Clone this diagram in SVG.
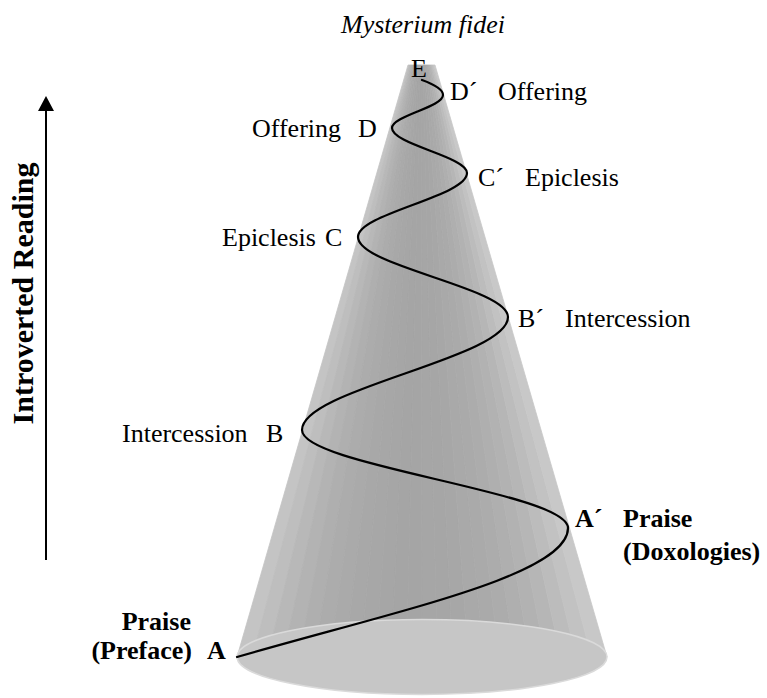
<svg xmlns="http://www.w3.org/2000/svg" width="767" height="698" viewBox="0 0 767 698">
<style>
text{font-family:"Liberation Serif","Times New Roman",serif;font-size:26px;fill:#000}
.b{font-weight:bold}
.it{font-style:italic}
.spiral{fill:none;stroke:#000;stroke-width:2.2;stroke-linecap:round}
.axis{stroke:#000;stroke-width:2}
</style>
<defs>
<marker id="ah" viewBox="0 0 16 16" refX="2" refY="8" markerWidth="16" markerHeight="16" markerUnits="userSpaceOnUse" orient="auto">
<path d="M0,0 L15,8 L0,16 Z" fill="#000"/>
</marker>
</defs>
<rect width="767" height="698" fill="#fff"/>
<g id="cone">
<polygon points="408,65 409.125,65 252.42,657 237,657" fill="#c4c4c4" stroke="#c4c4c4" stroke-width="0.8"/>
<polygon points="409.125,65 410.25,65 267.83,657 252.42,657" fill="#bebebe" stroke="#bebebe" stroke-width="0.8"/>
<polygon points="410.25,65 411.375,65 283.25,657 267.83,657" fill="#b8b8b8" stroke="#b8b8b8" stroke-width="0.8"/>
<polygon points="411.375,65 412.5,65 298.67,657 283.25,657" fill="#b3b3b3" stroke="#b3b3b3" stroke-width="0.8"/>
<polygon points="412.5,65 413.625,65 314.08,657 298.67,657" fill="#afafaf" stroke="#afafaf" stroke-width="0.8"/>
<polygon points="413.625,65 414.75,65 329.5,657 314.08,657" fill="#acacac" stroke="#acacac" stroke-width="0.8"/>
<polygon points="414.75,65 415.875,65 344.92,657 329.5,657" fill="#aaaaaa" stroke="#aaaaaa" stroke-width="0.8"/>
<polygon points="415.875,65 417,65 360.33,657 344.92,657" fill="#a8a8a8" stroke="#a8a8a8" stroke-width="0.8"/>
<polygon points="417,65 418.125,65 375.75,657 360.33,657" fill="#a7a7a7" stroke="#a7a7a7" stroke-width="0.8"/>
<polygon points="418.125,65 419.25,65 391.17,657 375.75,657" fill="#a6a6a6" stroke="#a6a6a6" stroke-width="0.8"/>
<polygon points="419.25,65 420.375,65 406.58,657 391.17,657" fill="#a5a5a5" stroke="#a5a5a5" stroke-width="0.8"/>
<polygon points="420.375,65 421.5,65 422,657 406.58,657" fill="#a5a5a5" stroke="#a5a5a5" stroke-width="0.8"/>
<polygon points="421.5,65 422.625,65 437.42,657 422,657" fill="#a6a6a6" stroke="#a6a6a6" stroke-width="0.8"/>
<polygon points="422.625,65 423.75,65 452.83,657 437.42,657" fill="#a6a6a6" stroke="#a6a6a6" stroke-width="0.8"/>
<polygon points="423.75,65 424.875,65 468.25,657 452.83,657" fill="#a7a7a7" stroke="#a7a7a7" stroke-width="0.8"/>
<polygon points="424.875,65 426,65 483.67,657 468.25,657" fill="#a9a9a9" stroke="#a9a9a9" stroke-width="0.8"/>
<polygon points="426,65 427.125,65 499.08,657 483.67,657" fill="#aaaaaa" stroke="#aaaaaa" stroke-width="0.8"/>
<polygon points="427.125,65 428.25,65 514.5,657 499.08,657" fill="#acacac" stroke="#acacac" stroke-width="0.8"/>
<polygon points="428.25,65 429.375,65 529.92,657 514.5,657" fill="#afafaf" stroke="#afafaf" stroke-width="0.8"/>
<polygon points="429.375,65 430.5,65 545.33,657 529.92,657" fill="#b2b2b2" stroke="#b2b2b2" stroke-width="0.8"/>
<polygon points="430.5,65 431.625,65 560.75,657 545.33,657" fill="#b6b6b6" stroke="#b6b6b6" stroke-width="0.8"/>
<polygon points="431.625,65 432.75,65 576.17,657 560.75,657" fill="#bcbcbc" stroke="#bcbcbc" stroke-width="0.8"/>
<polygon points="432.75,65 433.875,65 591.58,657 576.17,657" fill="#c2c2c2" stroke="#c2c2c2" stroke-width="0.8"/>
<polygon points="433.875,65 435,65 607,657 591.58,657" fill="#c8c8c8" stroke="#c8c8c8" stroke-width="0.8"/>
</g>
<g id="base">
<ellipse cx="422" cy="657" rx="185" ry="37.5" fill="#c6c6c6" stroke="#dadada" stroke-width="1.5"/>
</g>
<g id="connectors">
<path class="spiral" d="M237,657 C400,610 568,575 568,528 C568,510.3 503.1,495 435,479 C366.9,463 302,447.7 302,430 C302,409.6 352.2,391.9 405,373.5 C457.8,355.1 508,337.4 508,317 C508,302.5 471.4,290 433,277 C394.6,264 358,251.5 358,237 C358,225.4 384.6,215.4 412.5,205 C440.4,194.6 467,184.6 467,173 C467,164.9 448.7,157.8 429.5,150.5 C410.3,143.2 392,136.1 392,128 C392,122 404.4,116.9 417.5,111.5 C430.6,106.1 443,101 443,95 C443,89 433,84 422,80"/>
<line class="axis" x1="46" y1="560" x2="46" y2="109" marker-end="url(#ah)"/>
</g>
<g id="title"><text class="it" x="341" y="33">Mysterium fidei</text></g>
<g id="axis-label"><text class="b" transform="translate(33,293.5) rotate(-90)" text-anchor="middle" style="font-size:30px">Introverted Reading</text></g>
<g id="node-E"><text x="411" y="77">E</text></g>
<g id="node-D2"><text x="450" y="100">D´</text><text x="498" y="100">Offering</text></g>
<g id="node-D"><text x="252" y="137">Offering</text><text x="358" y="137">D</text></g>
<g id="node-C2"><text x="478" y="186">C´</text><text x="525" y="186">Epiclesis</text></g>
<g id="node-C"><text x="222" y="246">Epiclesis</text><text x="325" y="246">C</text></g>
<g id="node-B2"><text x="518" y="327">B´</text><text x="565" y="327">Intercession</text></g>
<g id="node-B"><text x="122" y="442">Intercession</text><text x="266" y="442">B</text></g>
<g id="node-A2"><text class="b" x="575" y="527">A´</text><text class="b" x="623" y="527">Praise</text><text class="b" x="623" y="560">(Doxologies)</text></g>
<g id="node-A"><text class="b" x="191" y="630" text-anchor="end">Praise</text><text class="b" x="192" y="659" text-anchor="end">(Preface)</text><text class="b" x="207" y="659">A</text></g>
</svg>
